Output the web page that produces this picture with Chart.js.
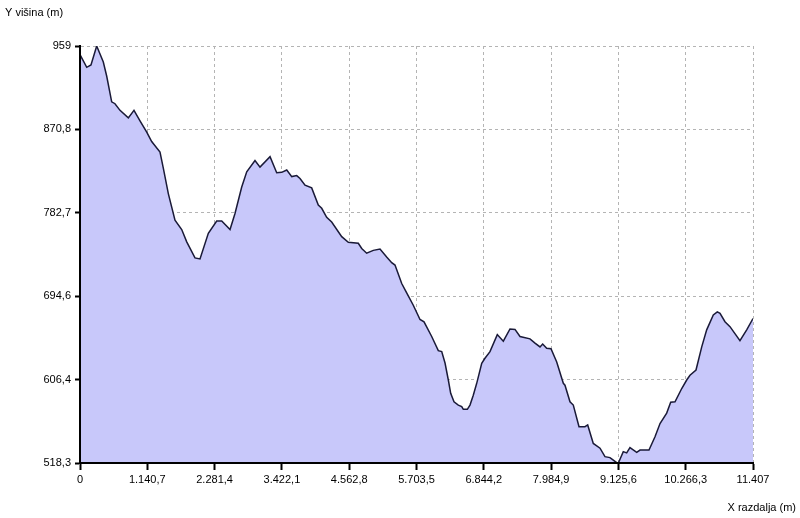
<!DOCTYPE html>
<html>
<head>
<meta charset="utf-8">
<script src="https://cdn.jsdelivr.net/npm/chart.js@4"></script>
<style>
  html, body { margin: 0; padding: 0; background: #fff; }
</style>
</head>
<body>
<canvas id="myChart" width="800" height="518"></canvas>
<script>
// distance along the profile (m) and elevation (m)
var distances = [0, 114, 186, 283, 395, 453, 537, 593, 678, 819, 915, 1017, 1131, 1215, 1356, 1412, 1497, 1610, 1724, 1809,
  1949, 2034, 2175, 2317, 2402, 2543, 2627, 2741, 2826, 2966, 3051, 3221, 3334, 3419, 3504, 3589, 3673, 3729, 3814, 3927,
  4039, 4097, 4181, 4266, 4436, 4548, 4717, 4775, 4859, 4971, 5085, 5198, 5283, 5339, 5453, 5537, 5649, 5763, 5831, 5961,
  6073, 6131, 6187, 6243, 6283, 6339, 6412, 6470, 6497, 6565, 6610, 6666, 6724, 6809, 6864, 6949, 7073, 7175, 7288, 7373,
  7458, 7627, 7712, 7797, 7842, 7910, 7983, 8080, 8192, 8220, 8305, 8361, 8458, 8559, 8605, 8700, 8814, 8898, 8983, 9097,
  9125, 9208, 9266, 9322, 9436, 9492, 9644, 9746, 9831, 9944, 10012, 10085, 10199, 10283, 10339, 10441, 10538, 10622, 10734, 10802,
  10848, 10932, 11017, 11186, 11300, 11407];
var elevations = [950, 936.5, 939, 959, 942, 927, 900, 898, 891, 883, 891, 880, 868, 858, 847, 830, 803, 775, 765, 752,
  735, 734, 761, 774, 774, 765, 782, 810, 826, 838, 831, 842, 825, 825.5, 828, 821, 822, 819, 812, 809,
  791, 787.5, 778, 773, 757.5, 751.5, 750.5, 745, 740, 743, 744.5, 736, 730, 727.5, 708, 698, 685, 670, 667.5, 652,
  637, 636, 624, 606, 592, 583, 579.5, 578, 575, 575, 579.5, 590, 602.5, 623.7, 629, 636, 654, 647, 660, 659.5,
  652, 649.5, 645, 641, 644, 639.5, 639, 625, 602.5, 600.5, 583, 579.5, 556.7, 556.7, 558.5, 539, 534, 525, 524, 518.6,
  518.3, 530.3, 529, 534.5, 529.6, 532, 532, 546, 560, 571, 582.5, 583, 597, 606, 611, 616.6, 641, 659, 674.7, 678,
  676.5, 667.6, 662.4, 647.6, 659, 671];

var xTickValues = [0, 1140.7, 2281.4, 3422.1, 4562.8, 5703.5, 6844.2, 7984.9, 9125.6, 10266.3, 11407];
var xTickLabels = ["0", "1.140,7", "2.281,4", "3.422,1", "4.562,8", "5.703,5", "6.844,2", "7.984,9", "9.125,6", "10.266,3", "11.407"];
var yTickValues = [518.3, 606.4, 694.6, 782.7, 870.8, 959];
var yTickLabels = ["518,3", "606,4", "694,6", "782,7", "870,8", "959"];

var yTitle = "Y višina (m)";
var xTitle = "X razdalja (m)";

var font = { family: "'Liberation Sans', Arial, sans-serif", size: 11 };

var titlesPlugin = {
  id: "titles",
  afterDatasetsDraw: function (chart) {
    // redraw the axes on top of the fill
    var a = chart.chartArea;
    var c = chart.ctx;
    c.save();
    c.strokeStyle = "#000";
    c.lineWidth = 2;
    c.beginPath();
    c.moveTo(a.left, a.top);
    c.lineTo(a.left, a.bottom);
    c.lineTo(a.right, a.bottom);
    c.stroke();
    c.restore();
  },
  afterDraw: function (chart) {
    var c = chart.ctx;
    c.save();
    c.fillStyle = "#000";
    c.font = "11px 'Liberation Sans', Arial, sans-serif";
    c.textBaseline = "middle";
    c.textAlign = "left";
    c.fillText(yTitle, 5, 13);
    c.textAlign = "right";
    c.fillText(xTitle, 796, 508);
    c.restore();
  }
};

var ctx = document.getElementById("myChart").getContext("2d");
new Chart(ctx, {
  type: "line",
  data: {
    datasets: [{
      label: "profil",
      data: distances.map(function (d, i) { return { x: d, y: elevations[i] }; }),
      backgroundColor: "rgb(200, 200, 250)",
      borderColor: "#1a1a38",
      borderWidth: 1.5,
      fill: "start",
      pointRadius: 0,
      tension: 0
    }]
  },
  options: {
    responsive: false,
    animation: false,
    devicePixelRatio: 1,
    layout: { padding: { top: 46, right: 47, left: 0, bottom: 0 } },
    plugins: { legend: { display: false }, tooltip: { enabled: false } },
    scales: {
      x: {
        type: "linear",
        min: 0,
        max: 11407,
        afterBuildTicks: function (scale) {
          scale.ticks = xTickValues.map(function (v) { return { value: v }; });
        },
        afterFit: function (scale) { scale.height = 55; },
        ticks: {
          autoSkip: false,
          maxRotation: 0,
          color: "#000",
          font: font,
          padding: 3,
          callback: function (v, i) { return xTickLabels[i]; }
        },
        grid: {
          color: "#b4b4b4",
          lineWidth: 1,
          tickLength: 7,
          tickColor: "#000",
          tickWidth: 2,
          tickBorderDash: []
        },
        border: { display: true, color: "#000", width: 2, dash: [3, 3] }
      },
      y: {
        min: 518.3,
        max: 959,
        afterBuildTicks: function (scale) {
          scale.ticks = yTickValues.map(function (v) { return { value: v }; });
        },
        afterFit: function (scale) { scale.width = 80; },
        ticks: {
          autoSkip: false,
          color: "#000",
          font: font,
          padding: 4,
          callback: function (v, i) { return yTickLabels[i]; }
        },
        grid: {
          color: "#b4b4b4",
          lineWidth: 1,
          tickLength: 5,
          tickColor: "#000",
          tickWidth: 2,
          tickBorderDash: []
        },
        border: { display: true, color: "#000", width: 2, dash: [3, 3] }
      }
    }
  },
  plugins: [titlesPlugin]
});
</script>
</body>
</html>
